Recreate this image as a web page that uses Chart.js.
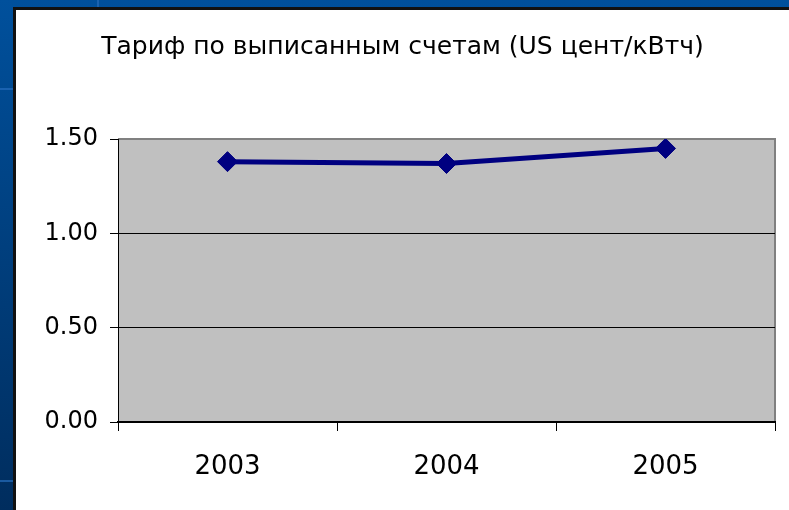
<!DOCTYPE html>
<html>
<head>
<meta charset="utf-8">
<script src="https://cdn.jsdelivr.net/npm/chart.js@4"></script>
<style>
  html, body { margin: 0; padding: 0; }
  body {
    width: 789px; height: 510px; overflow: hidden; position: relative;
    background: linear-gradient(#00509c, #002d5e);
  }
  #stripe1 { position: absolute; left: 0; top: 88px; width: 14px; height: 2px; background: #1a62b0; }
  #stripe2 { position: absolute; left: 0; top: 480px; width: 14px; height: 2px; background: #1a5aa0; }
  #stripe3 { position: absolute; left: 97px; top: 0; width: 2px; height: 7px; background: #1a62b0; }
  #card {
    position: absolute; left: 13px; top: 7px; right: 0; bottom: 0;
    background: #fff; border-left: 3px solid #111; border-top: 3px solid #111;
  }
  #wrap { position: absolute; left: 0; top: 0; width: 789px; height: 510px; }
</style>
</head>
<body>
<div id="stripe1"></div><div id="stripe2"></div><div id="stripe3"></div>
<div id="card"></div>
<div id="wrap"><canvas id="myChart" width="789" height="510"></canvas></div>
<script>
// chart data
var years = ["2003", "2004", "2005"];
var tariff = [1.38, 1.37, 1.45];
var yTicks = [0, 0.5, 1, 1.5];
var titleText = "Тариф по выписанным счетам (US цент/кВтч)";

// gray plot background with gray frame, like the old excel charts
var plotBack = {
  id: "plotBack",
  beforeDraw: function(chart) {
    var a = chart.chartArea;
    var ctx = chart.ctx;
    ctx.save();
    ctx.fillStyle = "#c0c0c0";
    ctx.fillRect(a.left, a.top, a.right - a.left, a.bottom - a.top);
    ctx.strokeStyle = "#808080";
    ctx.lineWidth = 2;
    ctx.beginPath();
    ctx.moveTo(a.left, a.top);
    ctx.lineTo(a.right, a.top);
    ctx.lineTo(a.right, a.bottom);
    ctx.stroke();
    ctx.restore();
  }
};

new Chart("myChart", {
  type: "line",
  data: {
    labels: years,
    datasets: [{
      data: tariff,
      borderColor: "#000080",
      backgroundColor: "#000080",
      borderWidth: 5,
      pointStyle: "rectRot",
      pointRadius: 10,
      pointBorderWidth: 1,
      tension: 0
    }]
  },
  plugins: [plotBack],
  options: {
    responsive: false,
    animation: false,
    layout: { padding: { left: 30, right: 14, top: 0, bottom: 0 } },
    plugins: {
      legend: { display: false },
      tooltip: { enabled: false },
      title: {
        display: true,
        text: titleText,
        color: "#000",
        font: { family: "DejaVu Sans", size: 25, weight: "normal", lineHeight: 1.2 },
        padding: { top: 32, bottom: 77 }
      }
    },
    scales: {
      x: {
        offset: true,
        grid: { offset: true, drawOnChartArea: false, color: "#000", tickLength: 9 },
        border: { color: "#000", width: 2 },
        ticks: { color: "#000", padding: 21, font: { family: "DejaVu Sans", size: 26 } },
        afterFit: function(s) { s.height = 88; }
      },
      y: {
        min: 0,
        max: 1.5,
        afterBuildTicks: function(s) { s.ticks = yTicks.map(function(v) { return { value: v }; }); },
        grid: {
          color: function(c) { return c.tick && c.tick.value === 1.5 ? "rgba(0,0,0,0)" : "#000"; },
          tickColor: "#000",
          tickLength: 8
        },
        border: { color: "#000", width: 1 },
        ticks: {
          color: "#000",
          padding: 12,
          font: { family: "DejaVu Sans", size: 24 },
          callback: function(v) { return Number(v).toFixed(2); }
        },
        afterFit: function(s) { s.width = 88; }
      }
    }
  }
});
</script>
</body>
</html>
